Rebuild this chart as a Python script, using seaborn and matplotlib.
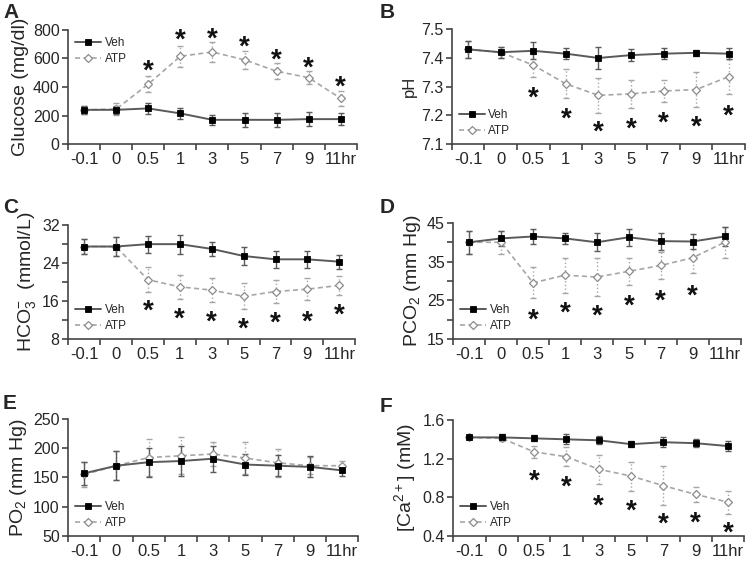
import numpy as np
import pandas as pd
import matplotlib.pyplot as plt
import seaborn as sns

############################ data ######################################################

times = ['-0.1', '0', '0.5', '1', '3', '5', '7', '9', '11hr']

glucose_veh = [240, 240, 250, 215, 170, 170, 170, 175, 175]
glucose_veh_err = [30, 30, 40, 40, 35, 50, 50, 50, 40]
glucose_atp = [240, 245, 420, 615, 645, 590, 510, 465, 320]
glucose_atp_err = [30, 40, 55, 75, 70, 65, 55, 45, 55]
glucose_star = [None, None, 571, 788, 795, 735, 648, 590, 461]

ph_veh = [7.43, 7.42, 7.425, 7.415, 7.40, 7.41, 7.415, 7.418, 7.415]
ph_veh_err = [0.03, 0.02, 0.03, 0.02, 0.04, 0.02, 0.02, 0.01, 0.02]
ph_atp = [7.43, 7.42, 7.375, 7.31, 7.27, 7.275, 7.285, 7.29, 7.335]
ph_atp_err = [0.03, 0.02, 0.04, 0.05, 0.06, 0.05, 0.04, 0.06, 0.06]
ph_star = [None, None, 7.288, 7.218, 7.172, 7.181, 7.204, 7.187, 7.228]

hco3_veh = [27.5, 27.5, 28.0, 28.0, 27.0, 25.5, 24.8, 24.8, 24.3]
hco3_veh_err = [1.5, 2.0, 1.8, 2.0, 1.5, 1.8, 1.8, 1.8, 1.5]
hco3_atp = [27.5, 27.5, 20.5, 19.0, 18.3, 17.0, 18.0, 18.5, 19.3]
hco3_atp_err = [1.5, 2.0, 2.7, 2.5, 2.5, 2.7, 2.5, 2.3, 2.0]
hco3_star = [None, None, 15.6, 14.0, 13.4, 11.9, 13.05, 13.4, 14.8]

pco2_veh = [40.0, 41.0, 41.5, 41.0, 40.0, 41.3, 40.3, 40.2, 41.5]
pco2_veh_err = [3.0, 2.0, 2.0, 1.5, 2.3, 2.2, 2.2, 2.0, 2.5]
pco2_atp = [40.0, 40.0, 29.5, 31.5, 31.0, 32.5, 34.0, 36.0, 40.0]
pco2_atp_err = [3.0, 3.0, 4.0, 4.5, 5.0, 3.5, 3.5, 4.0, 4.0]
pco2_star = [None, None, 22.1, 23.8, 23.2, 25.6, 26.9, 28.3, None]

po2_veh = [157, 170, 176, 178, 182, 172, 170, 168, 162]
po2_veh_err = [20, 25, 25, 25, 22, 18, 18, 18, 10]
po2_atp = [155, 170, 184, 187, 190, 183, 175, 170, 170]
po2_atp_err = [22, 25, 32, 32, 20, 28, 24, 15, 8]
po2_star = [None] * 9

ca_veh = [1.42, 1.42, 1.41, 1.40, 1.39, 1.35, 1.37, 1.36, 1.33]
ca_veh_err = [0.02, 0.03, 0.03, 0.05, 0.04, 0.03, 0.05, 0.04, 0.05]
ca_atp = [1.42, 1.41, 1.27, 1.22, 1.09, 1.02, 0.92, 0.83, 0.75]
ca_atp_err = [0.02, 0.03, 0.06, 0.10, 0.15, 0.15, 0.20, 0.08, 0.12]
ca_star = [None, None, 1.059, 0.997, 0.80, 0.748, 0.61, 0.624, 0.514]

############################ style ######################################################

sns.set_style("ticks")
plt.rcParams['font.family'] = ['Liberation Sans', 'DejaVu Sans']
plt.rcParams['mathtext.default'] = 'regular'

VEH_LINE = '#5a5a5a'
ATP_LINE = '#a6a6a6'
AXIS = '#444444'

fig = plt.figure(figsize=(7.48, 5.63), dpi=100)

# letter, letter pos, axes rect, series, stars, ylim, major/minor yticks, format, ylabel, label size, legend loc
panels = [
    ('A', 0.004, 0.995, [0.091, 0.744, 0.386, 0.203], glucose_veh, glucose_veh_err, glucose_atp, glucose_atp_err,
     glucose_star, (0, 800), [0, 200, 400, 600, 800], [], '{:.0f}', 'Glucose (mg/dl)', 14, 'upper left'),
    ('B', 0.508, 0.995, [0.604, 0.744, 0.392, 0.204], ph_veh, ph_veh_err, ph_atp, ph_atp_err,
     ph_star, (7.1, 7.5), [7.1, 7.2, 7.3, 7.4, 7.5], [], '{:.1f}', 'pH', 12, 'lower left'),
    ('C', 0.004, 0.648, [0.091, 0.398, 0.384, 0.202], hco3_veh, hco3_veh_err, hco3_atp, hco3_atp_err,
     hco3_star, (8, 32), [8, 16, 24, 32], [12, 20, 28], '{:.0f}', 'HCO$_3^{-}$  (mmol/L)', 14, 'lower left'),
    ('D', 0.508, 0.648, [0.606, 0.398, 0.384, 0.206], pco2_veh, pco2_veh_err, pco2_atp, pco2_atp_err,
     pco2_star, (15, 45), [15, 25, 35, 45], [20, 30, 40], '{:.0f}', 'PCO$_2$ (mm Hg)', 14, 'lower left'),
    ('E', 0.004, 0.300, [0.091, 0.048, 0.388, 0.208], po2_veh, po2_veh_err, po2_atp, po2_atp_err,
     po2_star, (50, 250), [50, 100, 150, 200, 250], [], '{:.0f}', 'PO$_2$ (mm Hg)', 14, 'lower left'),
    ('F', 0.508, 0.295, [0.606, 0.048, 0.389, 0.206], ca_veh, ca_veh_err, ca_atp, ca_atp_err,
     ca_star, (0.4, 1.6), [0.4, 0.8, 1.2, 1.6], [], '{:.1f}', '[Ca$^{2+}$] (mM)', 14, 'lower left'),
]

pos = np.arange(len(times))

for (letter, lx, ly, rect, veh, veh_err, atp, atp_err, stars, ylim, yticks, yminor, fmt,
     ylabel, lsize, loc) in panels:
    ax = fig.add_axes(rect)

    # error bars first so the lines sit on top
    eb = ax.errorbar(pos, atp, yerr=atp_err, fmt='none', ecolor=ATP_LINE, elinewidth=1.0,
                     capsize=2, capthick=1.0, zorder=1)
    eb[2][0].set_linestyle(':')
    ax.errorbar(pos, veh, yerr=veh_err, fmt='none', ecolor=VEH_LINE, elinewidth=1.0,
                capsize=2, capthick=1.0, zorder=2)

    df_veh = pd.DataFrame({'pos': pos, 'value': veh})
    df_atp = pd.DataFrame({'pos': pos, 'value': atp})
    sns.lineplot(data=df_veh, x='pos', y='value', ax=ax, color=VEH_LINE, lw=1.4, marker='s', markersize=4.5,
                 markerfacecolor='black', markeredgecolor='black', markeredgewidth=0.6, label='Veh', zorder=4)
    sns.lineplot(data=df_atp, x='pos', y='value', ax=ax, color=ATP_LINE, lw=1.2, linestyle=(0, (3, 2)),
                 marker='D', markersize=4.2, markerfacecolor='white', markeredgecolor='#8c8c8c',
                 markeredgewidth=0.9, label='ATP', zorder=3)

    for i, s in enumerate(stars):
        if s is not None:
            ax.annotate('*', (pos[i], s), xytext=(0, -11.5), textcoords='offset points',
                        ha='center', va='baseline', fontsize=20, fontweight='bold', color='#111111')

    ax.set_xlim(-0.5, len(times) - 0.5)
    ax.set_ylim(*ylim)
    ax.set_yticks(yticks)
    ax.set_yticklabels([fmt.format(t) for t in yticks])
    if yminor:
        ax.set_yticks(yminor, minor=True)
    ax.set_xticks(np.arange(-0.5, len(times), 1))
    ax.set_xticklabels([])
    ax.set_xticks(pos, minor=True)
    ax.set_xticklabels(times, minor=True)
    ax.tick_params(axis='x', which='minor', length=0, pad=6, labelsize=12)
    ax.tick_params(axis='x', which='major', length=4, width=1.2, color=AXIS)
    ax.tick_params(axis='y', which='both', length=4, width=1.2, color=AXIS, labelsize=11.5, pad=2)
    ax.set_xlabel('')
    ax.set_ylabel(ylabel, fontsize=lsize, labelpad=3)
    sns.despine(ax=ax)
    for sp in ['left', 'bottom']:
        ax.spines[sp].set_linewidth(1.2)
        ax.spines[sp].set_color(AXIS)

    ax.legend(loc=loc, frameon=False, fontsize=8.5, handlelength=2.2, handletextpad=0.3,
              labelspacing=0.35, borderaxespad=0.2)

    fig.text(lx, ly, letter, fontsize=15, fontweight='bold', ha='left', va='top')

fig.savefig('out.png', dpi=100)
